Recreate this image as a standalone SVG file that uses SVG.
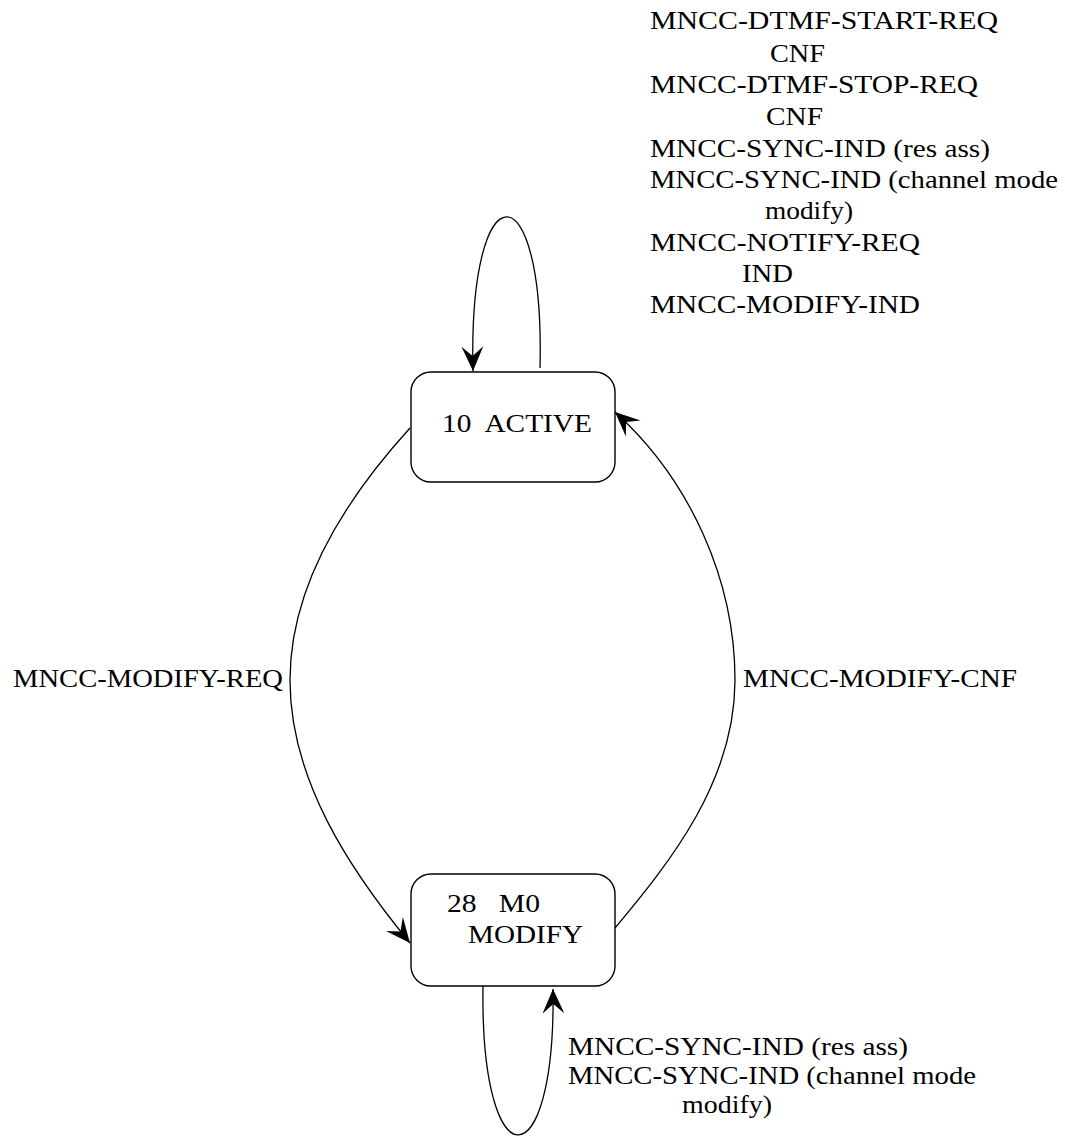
<svg xmlns="http://www.w3.org/2000/svg" width="1065" height="1137" viewBox="0 0 1065 1137" font-family="'Liberation Serif', 'Times New Roman', serif">
<style>
text{font-family:'Liberation Serif','Times New Roman',serif;font-size:25px;fill:#000}
.node{fill:#fff;stroke:#000;stroke-width:1.4}
.edge{fill:none;stroke:#000;stroke-width:1.3;marker-end:url(#arr)}
</style>
<defs>
<marker id="arr" markerUnits="userSpaceOnUse" orient="auto" refX="0" refY="0" markerWidth="30" markerHeight="30" viewBox="-20 -10 22 20" overflow="visible">
<path d="M0,0 L-18,-8 L-11,0 L-18,8 Z" fill="#000"/>
</marker>
</defs>
<rect width="1065" height="1137" fill="#fff"/>
<g id="connectors">
<path class="edge" d="M540,368 C545,166 468,166 473,371"/>
<path class="edge" d="M410,428 C340,505 290,590 290,680 C290,780 350,870 410,943"/>
<path class="edge" d="M615,928 C672,860 735,780 735,680 C735,580 690,480 615,412"/>
<path class="edge" d="M483,986 C480,1184 556,1184 553,989"/>
</g>
<g id="node-active">
<rect class="node" x="411" y="372" width="204" height="110" rx="20"/>
<text x="442" y="432" textLength="150" lengthAdjust="spacingAndGlyphs" xml:space="preserve">10  ACTIVE</text>
</g>
<g id="node-modify">
<rect class="node" x="411" y="874" width="204" height="112" rx="20"/>
<text x="447" y="912" textLength="93" lengthAdjust="spacingAndGlyphs" xml:space="preserve">28   M0</text>
<text x="468" y="943" textLength="115" lengthAdjust="spacingAndGlyphs">MODIFY</text>
</g>
<g id="labels">
<text x="650" y="29" textLength="348" lengthAdjust="spacingAndGlyphs">MNCC-DTMF-START-REQ</text>
<text x="770" y="62" textLength="55" lengthAdjust="spacingAndGlyphs">CNF</text>
<text x="650" y="93" textLength="328" lengthAdjust="spacingAndGlyphs">MNCC-DTMF-STOP-REQ</text>
<text x="766" y="125" textLength="57" lengthAdjust="spacingAndGlyphs">CNF</text>
<text x="650" y="157" textLength="340" lengthAdjust="spacingAndGlyphs">MNCC-SYNC-IND (res ass)</text>
<text x="650" y="188" textLength="408" lengthAdjust="spacingAndGlyphs">MNCC-SYNC-IND (channel mode</text>
<text x="765" y="219" textLength="88" lengthAdjust="spacingAndGlyphs">modify)</text>
<text x="650" y="251" textLength="270" lengthAdjust="spacingAndGlyphs">MNCC-NOTIFY-REQ</text>
<text x="742" y="282" textLength="51" lengthAdjust="spacingAndGlyphs">IND</text>
<text x="650" y="313" textLength="270" lengthAdjust="spacingAndGlyphs">MNCC-MODIFY-IND</text>
<text x="13" y="687" textLength="270" lengthAdjust="spacingAndGlyphs">MNCC-MODIFY-REQ</text>
<text x="743" y="687" textLength="274" lengthAdjust="spacingAndGlyphs">MNCC-MODIFY-CNF</text>
<text x="568" y="1055" textLength="340" lengthAdjust="spacingAndGlyphs">MNCC-SYNC-IND (res ass)</text>
<text x="568" y="1084" textLength="408" lengthAdjust="spacingAndGlyphs">MNCC-SYNC-IND (channel mode</text>
<text x="682" y="1113" textLength="90" lengthAdjust="spacingAndGlyphs">modify)</text>
</g>
</svg>
